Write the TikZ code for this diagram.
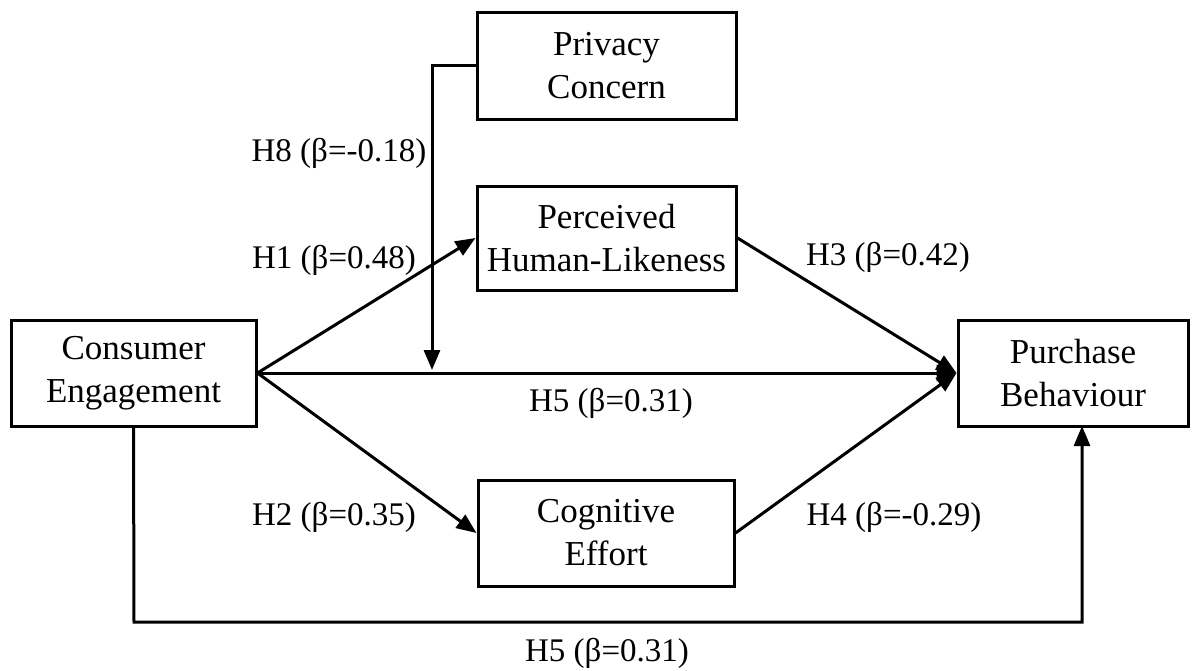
\documentclass[tikz,border=0pt]{standalone}
\usepackage{fontspec}
\setmainfont{Liberation Serif}
\usetikzlibrary{arrows.meta}
\begin{document}
\begin{tikzpicture}[x=0.5pt,y=-0.5pt,
  box/.style={draw, line width=1.5pt, align=center, inner sep=0pt,
    font=\fontsize{17.5}{21.5}\selectfont},
  lab/.style={inner sep=0pt, font=\fontsize{16.5}{20}\selectfont},
  conn/.style={line width=1.5pt},
  arr/.style={line width=1.5pt, -{Triangle[length=10pt,width=8pt]}}]
\fill[white] (0,0) rectangle (1192,670);
\useasboundingbox (0,0) rectangle (1192,670);
% boxes
\node[box, minimum width=129.5pt, minimum height=53.5pt] (pc) at (606.5,65.5) {Privacy\\Concern};
\node[box, minimum width=129.5pt, minimum height=52pt] (ph) at (606.5,238) {Perceived\\Human-Likeness};
\node[box, minimum width=122.5pt, minimum height=53pt] (ce) at (133.5,373) {Consumer\\Engagement};
\node[box, minimum width=115pt, minimum height=53pt] (pb) at (1073,373) {Purchase\\Behaviour};
\node[box, minimum width=128pt, minimum height=53pt] (cg) at (606,533) {Cognitive\\Effort};
% coordinates
\coordinate (m) at (432,370);
\coordinate (bl) at (134,622);
\coordinate (pbin) at (1082,426);
% connectors
\draw[arr] (ce.east) -- (ph.west);
\draw[arr] (ce.east) -- (cg.west);
\draw[arr] (ce.east) -- (pb.west);
\draw[arr] (ph.east) -- (pb.west);
\draw[arr] (cg.east) -- (pb.west);
\draw[arr] (pc.west) -| (m);
\draw[arr] (ce.south) -- (bl) -| (pbin);
% labels
\node[lab] (l8) at (339,153) {H8 (β=-0.18)};
\node[lab] (l1) at (334,260) {H1 (β=0.48)};
\node[lab] (l3) at (888,257) {H3 (β=0.42)};
\node[lab] (l5a) at (611,403) {H5 (β=0.31)};
\node[lab] (l2) at (334,517) {H2 (β=0.35)};
\node[lab] (l4) at (894,517) {H4 (β=-0.29)};
\node[lab] (l5b) at (607,653) {H5 (β=0.31)};
\end{tikzpicture}
\end{document}
